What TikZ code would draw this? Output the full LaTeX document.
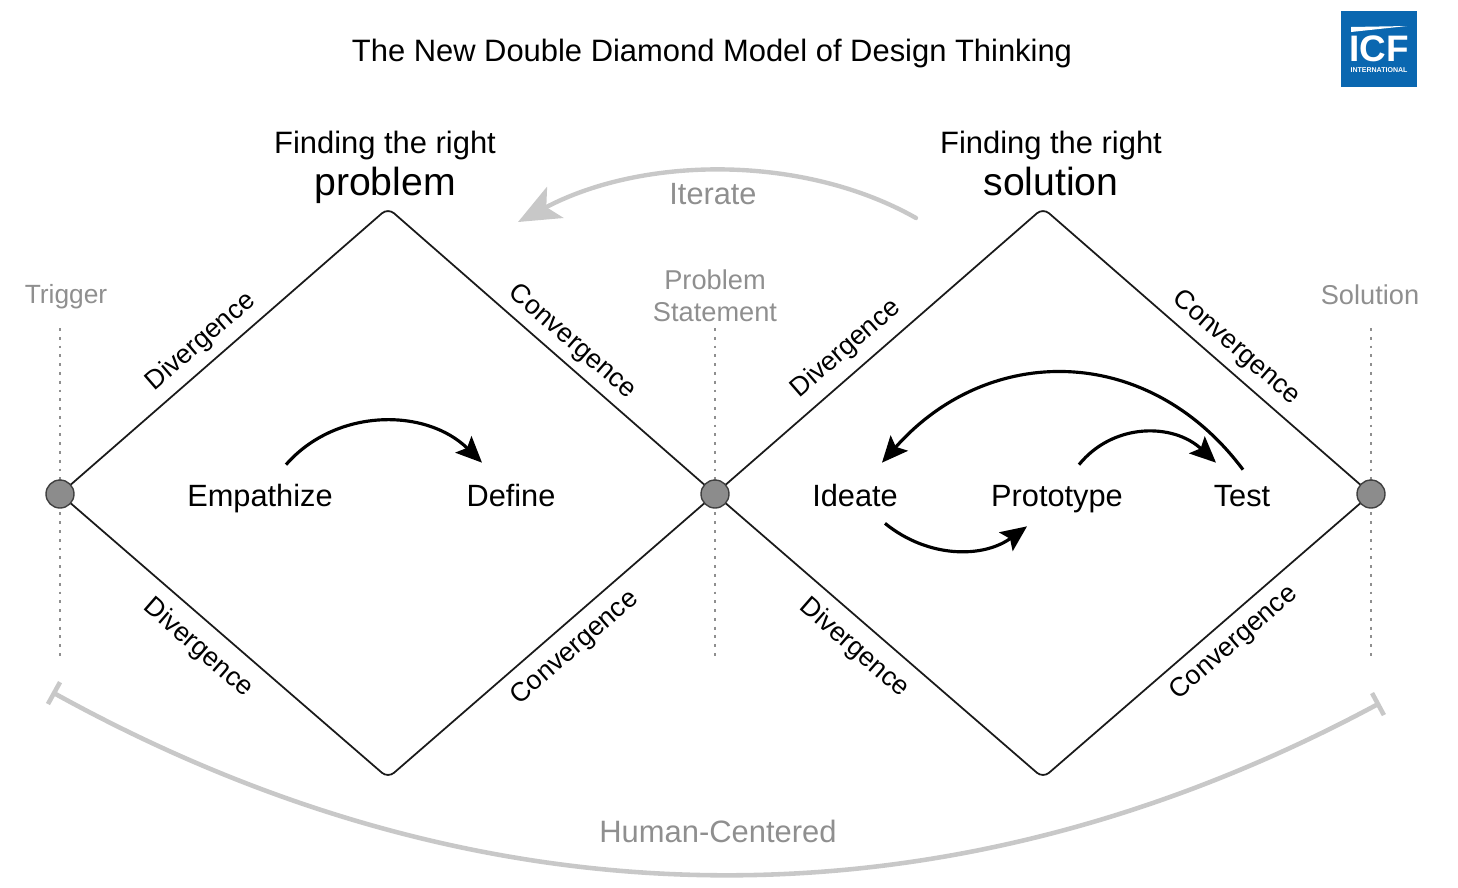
\documentclass[tikz,border=0pt]{standalone}
\usetikzlibrary{arrows.meta,calc}
\usepackage{fontspec}
\setmainfont{Liberation Sans}
\definecolor{edgeblack}{HTML}{1A1A1A}
\definecolor{labelgray}{HTML}{8F8F8F}
\definecolor{curvegray}{HTML}{C8C8C8}
\definecolor{dotgray}{HTML}{8C8C8C}
\definecolor{icfblue}{HTML}{0A67B0}
\tikzset{
  headsmall/.style={font=\fontsize{17.6}{20}\selectfont},
  headbig/.style={font=\fontsize{22.3}{25}\selectfont},
  stagetext/.style={font=\fontsize{17.5}{20}\selectfont, inner sep=0pt, text height=0.42cm, text depth=0.14cm},
  sidetext/.style={font=\fontsize{15.2}{16}\selectfont, inner sep=0pt},
  graytext/.style={text=labelgray, font=\fontsize{15.5}{18}\selectfont, align=center, inner sep=0pt},
  diamondline/.style={draw=edgeblack, line width=1pt, rounded corners=0.16cm},
  guideline/.style={draw=labelgray, line width=0.8pt, dash pattern=on 1.6pt off 3.4pt},
  statedot/.style={circle, fill=dotgray, draw=black!75, line width=0.8pt, minimum size=0.56cm, inner sep=0pt},
  flowarrow/.style={-{Stealth[length=0.52cm, width=0.46cm, inset=0.1cm]}, draw=black, line width=1.8pt},
  iteratearrow/.style={-{Stealth[length=0.84cm, width=0.7cm, inset=0.2cm]}, draw=curvegray, line width=2.5pt, line cap=round},
  humanarc/.style={{Bar[width=0.5cm, length=2pt]}-{Bar[width=0.5cm, length=2pt]}, draw=curvegray, line width=2.6pt}
}

\begin{document}
\begin{tikzpicture}[x=0.02cm, y=-0.02cm]

  \useasboundingbox (0,0) rectangle (1458,887);

  % Title
  \node[font=\fontsize{17.6}{20}\selectfont] (title) at (712,53.5) {The New Double Diamond Model of Design Thinking};

  % Logo
  \fill[icfblue] (1341,11) rectangle (1417,87);
  \fill[white] (1351,27) -- (1407,26) -- (1351,32) -- cycle;
  \node[text=white, font=\fontsize{21}{21}\bfseries\selectfont, inner sep=0pt] (logotext) at (1379,48.5) {ICF};
  \node[text=white, font=\fontsize{4}{4}\bfseries\selectfont, inner sep=0pt] (logosmall) at (1379,70) {INTERNATIONAL};

  % Diamond corners
  \coordinate (problemtop) at (388,208);
  \coordinate (problembottom) at (388,778);
  \coordinate (solutiontop) at (1043,208);
  \coordinate (solutionbottom) at (1043,778);

  % Guide lines
  \coordinate (triggerupper) at (60,328);
  \coordinate (triggerlower) at (60,658);
  \coordinate (statementupper) at (715,328);
  \coordinate (statementlower) at (715,658);
  \coordinate (solutionupper) at (1371,328);
  \coordinate (solutionlower) at (1371,658);
  \draw[guideline] (triggerupper) -- (triggerlower);
  \draw[guideline] (statementupper) -- (statementlower);
  \draw[guideline] (solutionupper) -- (solutionlower);

  % Dots
  \coordinate (triggerspot) at (60,494);
  \coordinate (statementspot) at (715,494);
  \coordinate (solutionspot) at (1371,494);

  % Diamonds
  \draw[diamondline] (triggerspot) -- (problemtop) -- (statementspot) -- (problembottom) -- cycle;
  \draw[diamondline] (statementspot) -- (solutiontop) -- (solutionspot) -- (solutionbottom) -- cycle;

  \node[statedot] (triggerdot) at (triggerspot) {};
  \node[statedot] (statementdot) at (statementspot) {};
  \node[statedot] (solutiondot) at (solutionspot) {};

  % Diamond headings
  \node[headsmall] (problemhead) at (385,145) {Finding the right};
  \node[headbig] (problemword) at (385,185) {problem};
  \node[headsmall] (solutionhead) at (1051,145) {Finding the right};
  \node[headbig] (solutionword) at (1051,181) {solution};

  % Gray labels
  \node[graytext, font=\fontsize{15}{18}\selectfont] (trigger) at (66,297) {Trigger};
  \node[graytext] (statement) at (715,296) {Problem\\[0pt]Statement};
  \node[graytext] (solution) at (1370,295) {Solution};
  \node[graytext, font=\fontsize{17.5}{20}\selectfont] (iterate) at (713,194) {Iterate};
  \node[graytext, font=\fontsize{17.6}{20}\selectfont] (human) at (718,831) {Human-Centered};

  % Edge labels
  \node[sidetext, rotate=41] (divone) at (201,342) {Divergence};
  \node[sidetext, rotate=-41] (conone) at (572,342) {Convergence};
  \node[sidetext, rotate=-41] (divtwo) at (198,648) {Divergence};
  \node[sidetext, rotate=41] (contwo) at (575,648) {Convergence};
  \node[sidetext, rotate=41] (divthree) at (846,349) {Divergence};
  \node[sidetext, rotate=-41] (conthree) at (1236,348) {Convergence};
  \node[sidetext, rotate=-41] (divfour) at (854,648) {Divergence};
  \node[sidetext, rotate=41] (confour) at (1234,643) {Convergence};

  % Stages
  \node[stagetext] (empathize) at (260,499) {Empathize};
  \node[stagetext] (define) at (511,499) {Define};
  \node[stagetext] (ideate) at (855,499) {Ideate};
  \node[stagetext] (prototype) at (1057,499) {Prototype};
  \node[stagetext] (test) at (1242,499) {Test};

  % Stage arrows
  \draw[flowarrow] ($(empathize.north)+(26,-20)$) .. controls +(50,-57) and +(-56,-55) .. ($(define.north)+(-29,-22)$);
  \draw[flowarrow] ($(ideate.south)+(30,10)$) .. controls +(43,35) and +(-44,32) .. ($(prototype.south)+(-30,13)$);
  \draw[flowarrow] ($(prototype.north)+(22,-20)$) .. controls +(34,-42) and +(-43,-40) .. ($(test.north)+(-26,-22)$);
  \draw[flowarrow] ($(test.north)+(1,-15)$) .. controls +(-95,-127) and +(106,-120) .. ($(ideate.north)+(27,-22)$);

  % Iterate arc
  \coordinate (iterfrom) at (916,218);
  \coordinate (iterto) at (518,222);
  \draw[iteratearrow] (iterfrom) .. controls (805,155) and (645,155) .. (iterto);

  % Human-centered arc
  \coordinate (humanleft) at (52,692);
  \coordinate (humanright) at (1380,703);
  \draw[humanarc] (humanleft) .. controls (490,934) and (950,934) .. (humanright);

\end{tikzpicture}
\end{document}
